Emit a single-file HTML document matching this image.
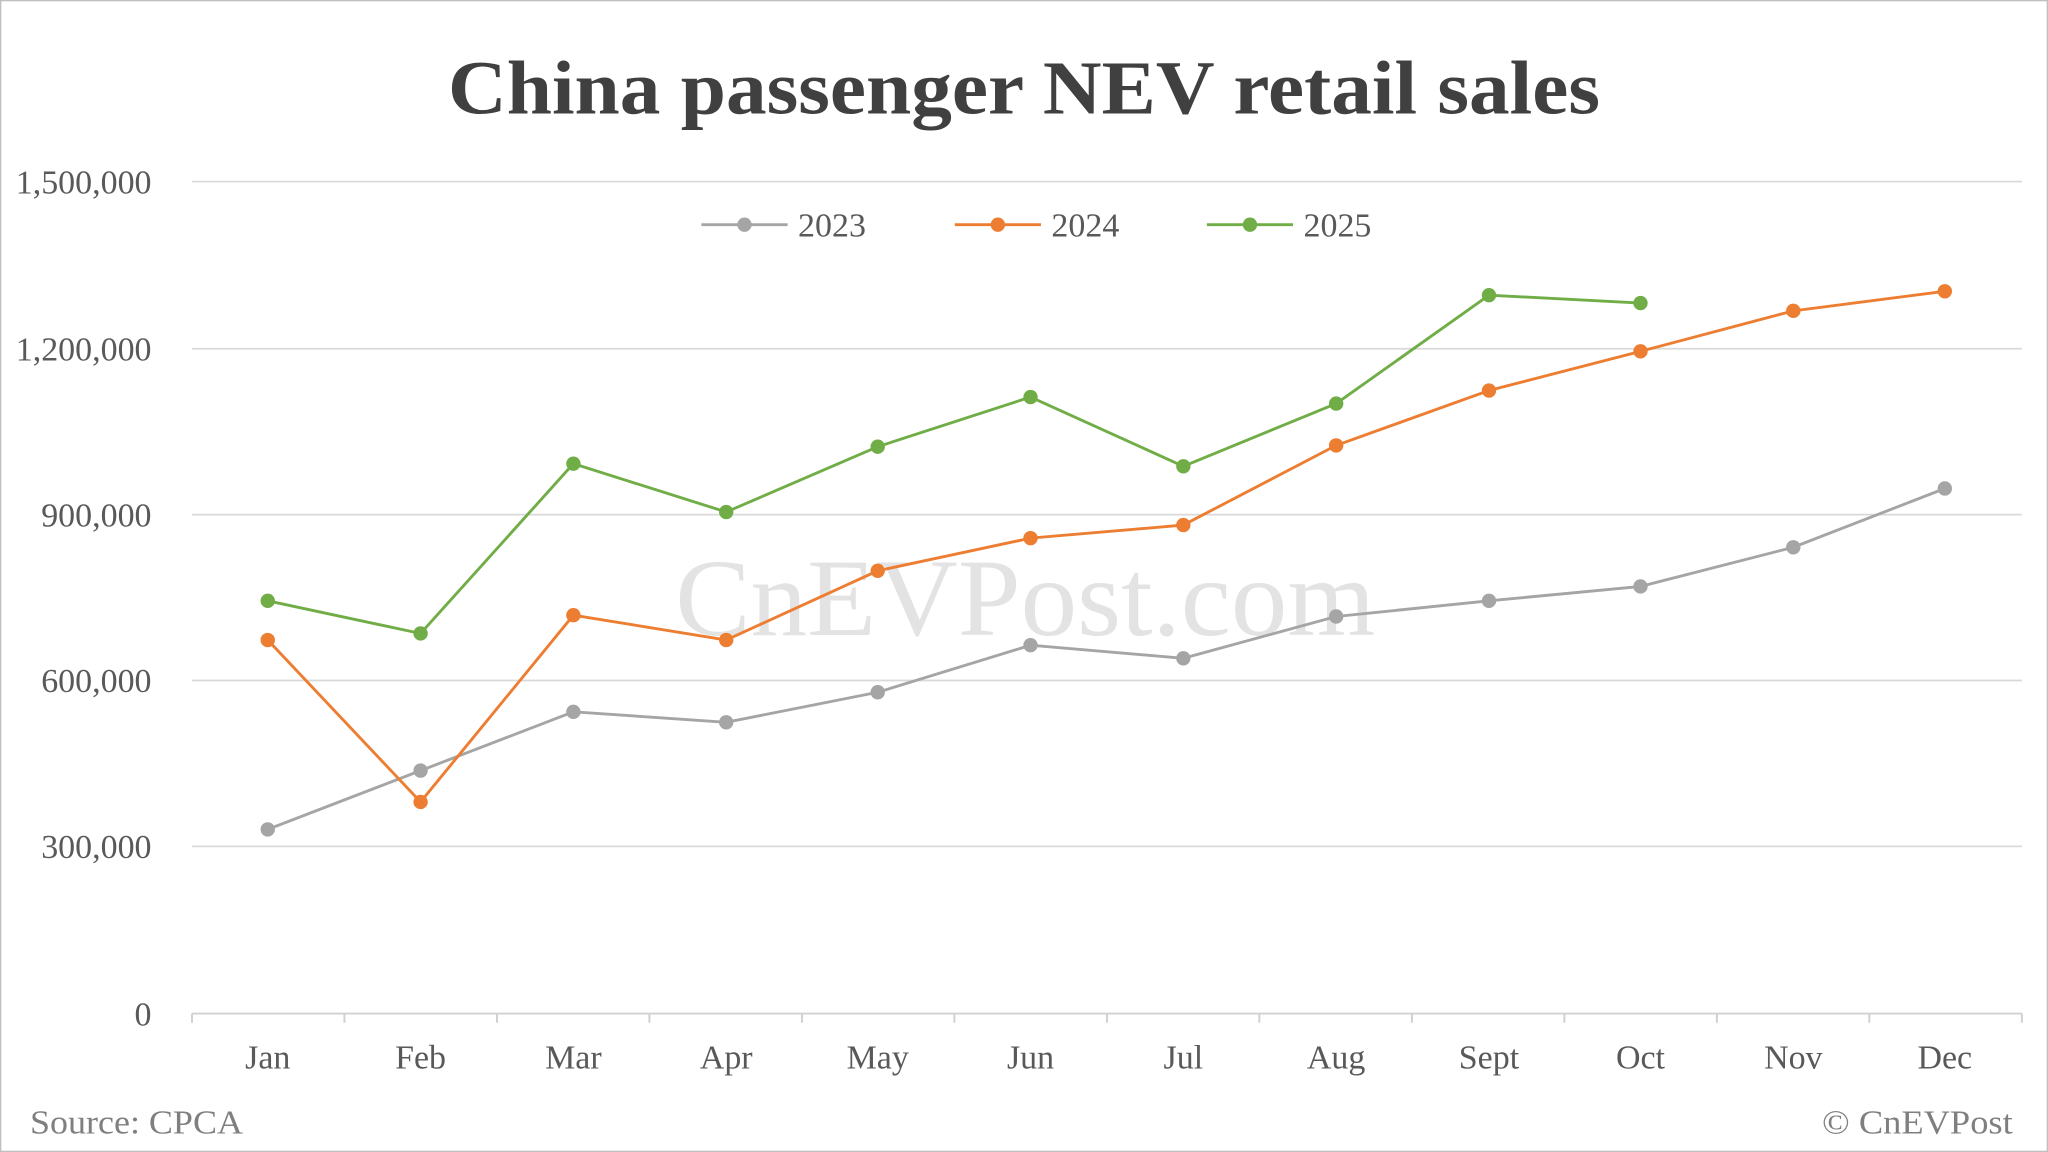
<!DOCTYPE html>
<html><head><meta charset="utf-8"><style>
html,body{margin:0;padding:0;background:#fff;}
svg{display:block;}
text{font-family:"Liberation Serif",serif;}
</style></head><body>
<svg width="2048" height="1152" viewBox="0 0 1568 882" xmlns="http://www.w3.org/2000/svg">
<rect x="0.5" y="0.5" width="1567" height="881" fill="#fff" stroke="#bfbfbf" stroke-width="1"/>
<text x="784" y="87" text-anchor="middle" font-size="58" font-weight="bold" fill="#404040" textLength="882" lengthAdjust="spacingAndGlyphs">China passenger NEV retail sales</text>
<g stroke="#d9d9d9" stroke-width="1.3">
<line x1="147" y1="139" x2="1548" y2="139"/>
<line x1="147" y1="267" x2="1548" y2="267"/>
<line x1="147" y1="394" x2="1548" y2="394"/>
<line x1="147" y1="521" x2="1548" y2="521"/>
<line x1="147" y1="648" x2="1548" y2="648"/>
</g>
<g stroke="#d0d0d0" stroke-width="1.5">
<line x1="147" y1="776" x2="1548" y2="776"/>
<line x1="147" y1="776" x2="147" y2="783"/><line x1="263.7" y1="776" x2="263.7" y2="783"/><line x1="380.5" y1="776" x2="380.5" y2="783"/><line x1="497.2" y1="776" x2="497.2" y2="783"/><line x1="614" y1="776" x2="614" y2="783"/><line x1="730.7" y1="776" x2="730.7" y2="783"/><line x1="847.5" y1="776" x2="847.5" y2="783"/><line x1="964.2" y1="776" x2="964.2" y2="783"/><line x1="1081" y1="776" x2="1081" y2="783"/><line x1="1197.7" y1="776" x2="1197.7" y2="783"/><line x1="1314.5" y1="776" x2="1314.5" y2="783"/><line x1="1431.2" y1="776" x2="1431.2" y2="783"/><line x1="1548" y1="776" x2="1548" y2="783"/>
</g>
<g font-size="26" fill="#595959" text-anchor="end">
<text x="116" y="148">1,500,000</text>
<text x="116" y="276">1,200,000</text>
<text x="116" y="403">900,000</text>
<text x="116" y="530">600,000</text>
<text x="116" y="657">300,000</text>
<text x="116" y="785">0</text>
</g>
<g font-size="26" fill="#595959" text-anchor="middle">
<text x="205" y="818">Jan</text><text x="322" y="818">Feb</text><text x="439" y="818">Mar</text><text x="556" y="818">Apr</text><text x="672" y="818">May</text><text x="789" y="818">Jun</text><text x="906" y="818">Jul</text><text x="1023" y="818">Aug</text><text x="1140" y="818">Sept</text><text x="1256" y="818">Oct</text><text x="1373" y="818">Nov</text><text x="1489" y="818">Dec</text>
</g>
<text x="785" y="486" text-anchor="middle" font-size="84" fill="#e3e3e3" textLength="536" lengthAdjust="spacingAndGlyphs">CnEVPost.com</text>
<g fill="none" stroke-width="2.2">
<polyline stroke="#a5a5a5" points="205,635 322,590 439,545 556,553 672,530 789,494 906,504 1023,472 1140,460 1256,449 1373,419 1489,374"/>
<polyline stroke="#ed7d31" points="205,490 322,614 439,471 556,490 672,437 789,412 906,402 1023,341 1140,299 1256,269 1373,238 1489,223"/>
<polyline stroke="#70ad47" points="205,460 322,485 439,355 556,392 672,342 789,304 906,357 1023,309 1140,226 1256,232"/>
</g>
<g fill="#a5a5a5"><circle cx="205" cy="635" r="5.5"/><circle cx="322" cy="590" r="5.5"/><circle cx="439" cy="545" r="5.5"/><circle cx="556" cy="553" r="5.5"/><circle cx="672" cy="530" r="5.5"/><circle cx="789" cy="494" r="5.5"/><circle cx="906" cy="504" r="5.5"/><circle cx="1023" cy="472" r="5.5"/><circle cx="1140" cy="460" r="5.5"/><circle cx="1256" cy="449" r="5.5"/><circle cx="1373" cy="419" r="5.5"/><circle cx="1489" cy="374" r="5.5"/></g>
<g fill="#ed7d31"><circle cx="205" cy="490" r="5.5"/><circle cx="322" cy="614" r="5.5"/><circle cx="439" cy="471" r="5.5"/><circle cx="556" cy="490" r="5.5"/><circle cx="672" cy="437" r="5.5"/><circle cx="789" cy="412" r="5.5"/><circle cx="906" cy="402" r="5.5"/><circle cx="1023" cy="341" r="5.5"/><circle cx="1140" cy="299" r="5.5"/><circle cx="1256" cy="269" r="5.5"/><circle cx="1373" cy="238" r="5.5"/><circle cx="1489" cy="223" r="5.5"/></g>
<g fill="#70ad47"><circle cx="205" cy="460" r="5.5"/><circle cx="322" cy="485" r="5.5"/><circle cx="439" cy="355" r="5.5"/><circle cx="556" cy="392" r="5.5"/><circle cx="672" cy="342" r="5.5"/><circle cx="789" cy="304" r="5.5"/><circle cx="906" cy="357" r="5.5"/><circle cx="1023" cy="309" r="5.5"/><circle cx="1140" cy="226" r="5.5"/><circle cx="1256" cy="232" r="5.5"/></g>
<g stroke-width="2.2">
<line x1="537" y1="172" x2="603" y2="172" stroke="#a5a5a5"/><circle cx="570" cy="172" r="5.5" fill="#a5a5a5"/>
<line x1="731" y1="172" x2="797" y2="172" stroke="#ed7d31"/><circle cx="764" cy="172" r="5.5" fill="#ed7d31"/>
<line x1="924" y1="172" x2="990" y2="172" stroke="#70ad47"/><circle cx="957" cy="172" r="5.5" fill="#70ad47"/>
</g>
<g font-size="26" fill="#595959">
<text x="611" y="181">2023</text><text x="805" y="181">2024</text><text x="998" y="181">2025</text>
</g>
<text x="23" y="868" font-size="26" fill="#7f7f7f" textLength="163" lengthAdjust="spacingAndGlyphs">Source: CPCA</text>
<text x="1541" y="868" font-size="26" fill="#7f7f7f" text-anchor="end" textLength="146" lengthAdjust="spacingAndGlyphs">© CnEVPost</text>
</svg>
</body></html>
